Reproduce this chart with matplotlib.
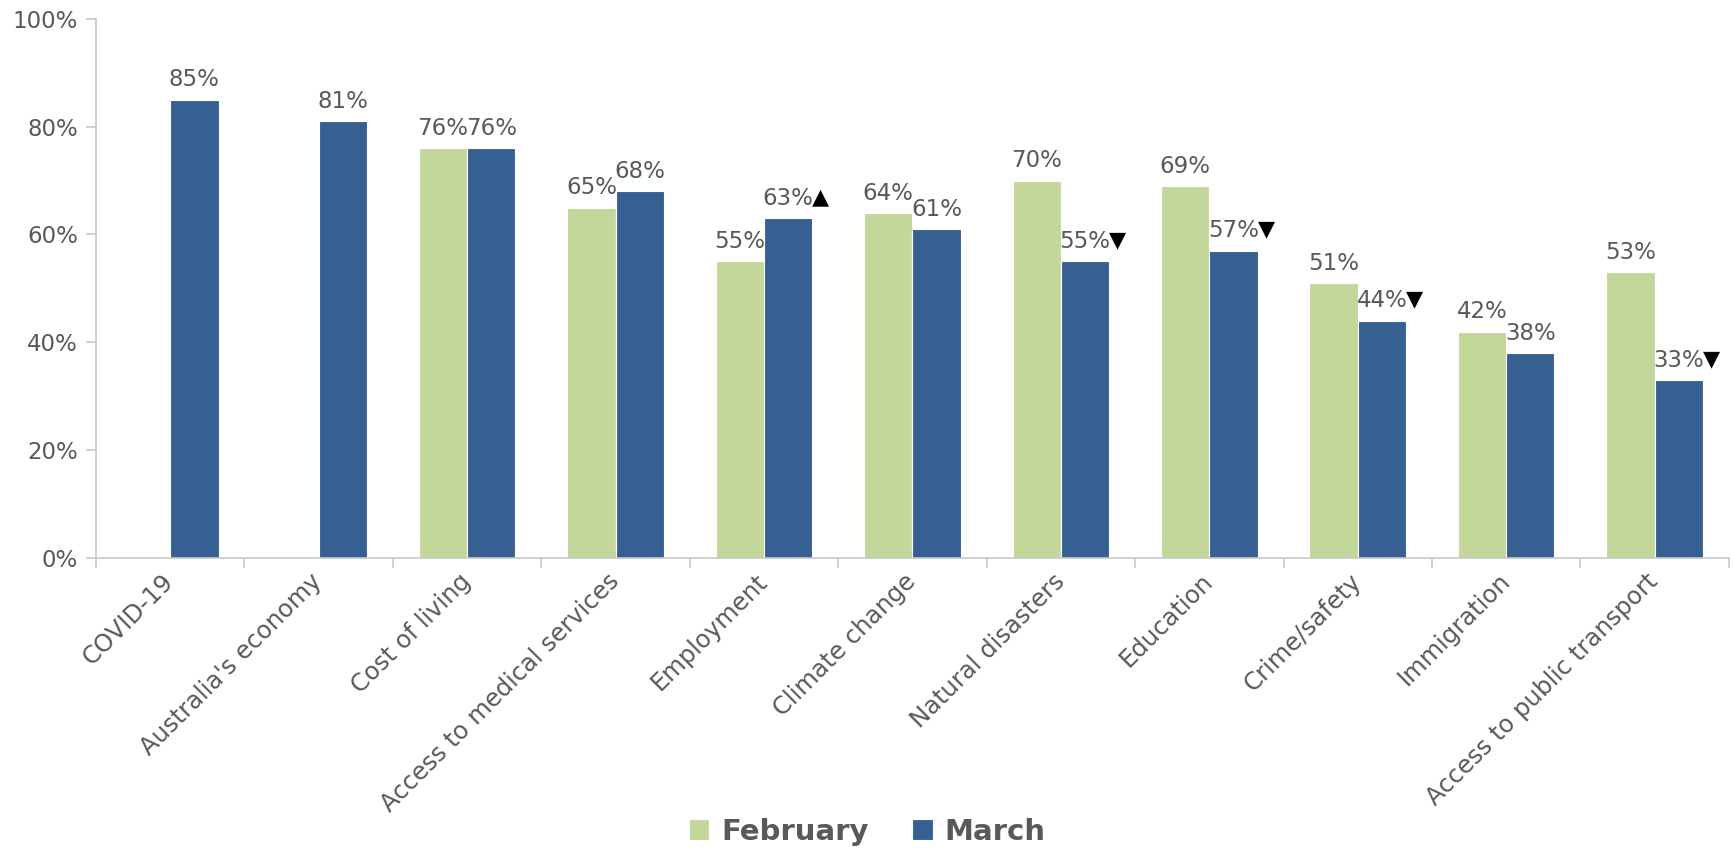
import numpy as np
import matplotlib.pyplot as plt
from matplotlib.ticker import FixedLocator, NullFormatter

categories = ['COVID-19', "Australia's economy", 'Cost of living', 'Access to medical services',
              'Employment', 'Climate change', 'Natural disasters', 'Education',
              'Crime/safety', 'Immigration', 'Access to public transport']
february = [None, None, 76, 65, 55, 64, 70, 69, 51, 42, 53]
march = [85, 81, 76, 68, 63, 61, 55, 57, 44, 38, 33]
march_change = ['', '', '', '', '▲', '', '▼', '▼', '▼', '', '▼']

feb_color = '#C4D79B'
mar_color = '#366092'
text_color = '#595959'
axis_color = '#C8C8C8'

plt.rcParams['font.family'] = ['DejaVu Sans']

fig = plt.figure(figsize=(17.34, 8.52), dpi=100)
ax = fig.add_axes([0.0554, 0.345, 0.9416, 0.633])

x = np.arange(len(categories))
w = 0.325

feb_vals = [np.nan if v is None else v for v in february]
ax.bar(x - w / 2, feb_vals, w, color=feb_color, edgecolor='white', linewidth=0.8, label='February')
ax.bar(x + w / 2, march, w, color=mar_color, edgecolor='white', linewidth=0.8, label='March')

# value labels
for i in range(len(categories)):
    if february[i] is not None:
        ax.annotate(f'{february[i]}%', (x[i] - w / 2, february[i]), xytext=(0, 6),
                    textcoords='offset points', ha='center', va='bottom',
                    fontsize=16.5, color=text_color)
    ax.annotate(f'{march[i]}%', (x[i] + w / 2, march[i]), xytext=(0, 6),
                textcoords='offset points', ha='center', va='bottom',
                fontsize=16.5, color=text_color)
    if march_change[i]:
        ax.annotate(march_change[i], (x[i] + w, march[i]), xytext=(0, 8),
                    textcoords='offset points', ha='left', va='bottom',
                    fontsize=16, color='black')

ax.set_xlim(-0.5, len(categories) - 0.5)
ax.set_ylim(0, 100)
ax.set_yticks(np.arange(0, 101, 20))
ax.set_yticklabels([f'{v}%' for v in range(0, 101, 20)], fontsize=16.5, color=text_color)

# category labels at centres, tick marks between categories
ax.xaxis.set_major_locator(FixedLocator(np.arange(-0.5, len(categories), 1)))
ax.xaxis.set_major_formatter(NullFormatter())
ax.xaxis.set_minor_locator(FixedLocator(x))
ax.set_xticklabels(categories, minor=True, rotation=45, ha='right', va='center',
                   rotation_mode='anchor', fontsize=17.5, color=text_color)
ax.tick_params(axis='x', which='minor', length=0, pad=14)
ax.tick_params(axis='x', which='major', length=7, color=axis_color, width=1.2)
ax.tick_params(axis='y', length=7, color=axis_color, width=1.2, pad=6)

for s in ['top', 'right']:
    ax.spines[s].set_visible(False)
for s in ['left', 'bottom']:
    ax.spines[s].set_color(axis_color)
    ax.spines[s].set_linewidth(1.2)

leg = fig.legend(loc='center', bbox_to_anchor=(0.5, 0.024), ncol=2, frameon=False,
                 prop={'weight': 'bold', 'size': 21}, handlelength=0.7, handleheight=0.7,
                 handletextpad=0.4, columnspacing=1.5)
for t in leg.get_texts():
    t.set_color(text_color)

fig.savefig('out.png', dpi=100)
